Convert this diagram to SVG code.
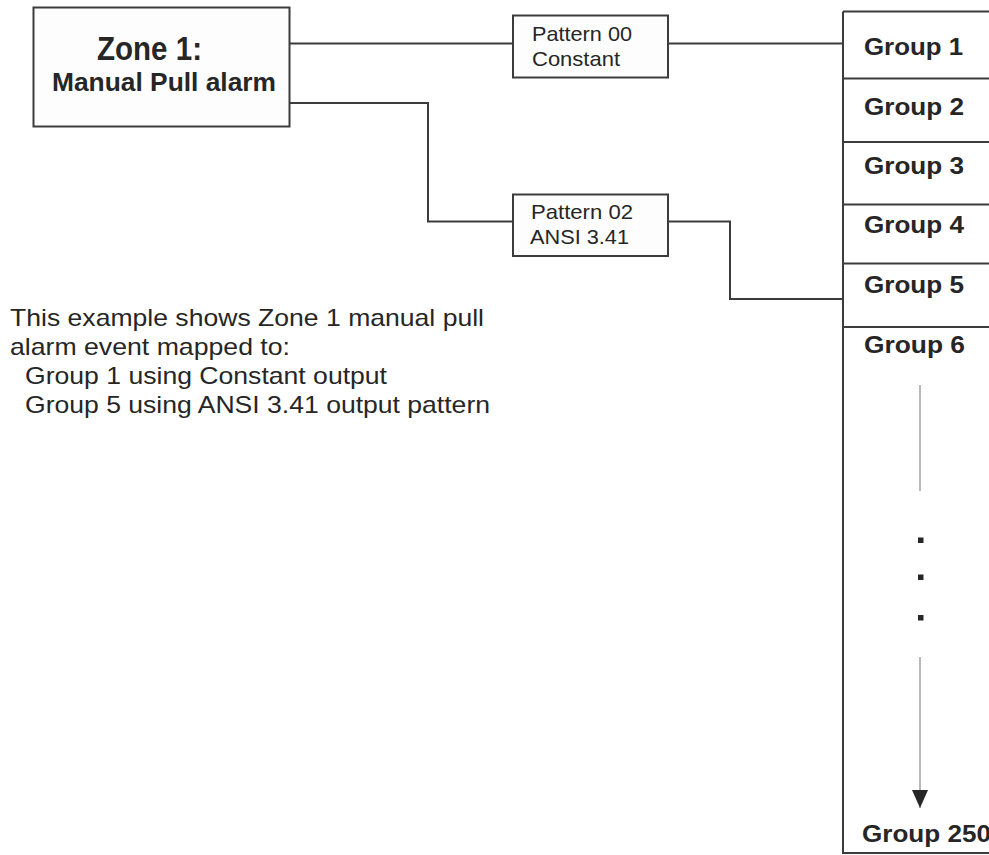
<svg xmlns="http://www.w3.org/2000/svg" width="989" height="855" viewBox="0 0 989 855">
  <style>
    .box { fill: #fdfdfd; stroke: #3c3c3c; stroke-width: 2; }
    .conn { fill: none; stroke: #3c3c3c; stroke-width: 2; }
    .div { fill: none; stroke: #3c3c3c; stroke-width: 2; }
    .thin { fill: none; stroke: #8a8a8a; stroke-width: 1.2; }
    .t { font-family: "Liberation Sans", Arial, sans-serif; fill: #262626; }
    .b { font-weight: bold; }
    .pat { font-size: 21px; }
    .grp { font-size: 24px; font-weight: bold; }
    .desc { font-size: 24px; }
  </style>
  <defs>
    <marker id="arrow" markerWidth="18" markerHeight="16" refX="18" refY="8" orient="auto" markerUnits="userSpaceOnUse" viewBox="0 0 18 16">
      <path d="M0,0 L18,8 L0,16 Z" fill="#262626"/>
    </marker>
  </defs>
  <rect width="989" height="855" fill="#ffffff"/>

  <g id="connectors">
    <path class="conn" d="M289,43.5 H513"/>
    <path class="conn" d="M289,103 H428 V221.5 H513"/>
    <path class="conn" d="M668,43.5 H843"/>
    <path class="conn" d="M668,221.5 H730 V299 H843"/>
  </g>

  <g id="zone1">
    <rect class="box" x="33.5" y="7.5" width="256" height="119"/>
    <text class="t b" x="97" y="60" font-size="34" textLength="105" lengthAdjust="spacingAndGlyphs">Zone 1:</text>
    <text class="t b" x="52" y="91" font-size="25" textLength="224" lengthAdjust="spacingAndGlyphs">Manual Pull alarm</text>
  </g>

  <g id="pattern00">
    <rect class="box" x="513" y="15.5" width="155" height="62"/>
    <text class="t pat" x="532" y="41" textLength="100" lengthAdjust="spacingAndGlyphs">Pattern 00</text>
    <text class="t pat" x="532" y="66" textLength="88" lengthAdjust="spacingAndGlyphs">Constant</text>
  </g>

  <g id="pattern02">
    <rect class="box" x="513" y="194.5" width="155" height="61.5"/>
    <text class="t pat" x="531" y="219" textLength="102" lengthAdjust="spacingAndGlyphs">Pattern 02</text>
    <text class="t pat" x="530" y="244" textLength="99" lengthAdjust="spacingAndGlyphs">ANSI 3.41</text>
  </g>

  <g id="groups">
    <path class="div" d="M843,11.5 H989 M843,11.5 V853 H989"/>
    <path class="div" d="M843,78.5 H989 M843,142 H989 M843,204.5 H989 M843,263.5 H989 M843,327 H989"/>
    <g id="group1"><text class="t grp" x="864" y="55" textLength="99" lengthAdjust="spacingAndGlyphs">Group 1</text></g>
    <g id="group2"><text class="t grp" x="864" y="115" textLength="100" lengthAdjust="spacingAndGlyphs">Group 2</text></g>
    <g id="group3"><text class="t grp" x="864" y="174" textLength="100" lengthAdjust="spacingAndGlyphs">Group 3</text></g>
    <g id="group4"><text class="t grp" x="864" y="233" textLength="100" lengthAdjust="spacingAndGlyphs">Group 4</text></g>
    <g id="group5"><text class="t grp" x="864" y="293" textLength="100" lengthAdjust="spacingAndGlyphs">Group 5</text></g>
    <g id="group6"><text class="t grp" x="864" y="353" textLength="101" lengthAdjust="spacingAndGlyphs">Group 6</text></g>
    <g id="group250"><text class="t grp" x="862" y="842" textLength="129" lengthAdjust="spacingAndGlyphs">Group 250</text></g>
    <path class="thin" d="M920,385 V491"/>
    <rect x="918" y="537.5" width="5.5" height="5.5" fill="#262626"/>
    <rect x="918" y="574.5" width="5.5" height="5.5" fill="#262626"/>
    <rect x="918" y="615" width="5.5" height="5.5" fill="#262626"/>
    <path class="thin" d="M920,657 V808" marker-end="url(#arrow)"/>
  </g>

  <g id="description">
    <text class="t desc" x="10" y="326" textLength="474" lengthAdjust="spacingAndGlyphs">This example shows Zone 1 manual pull</text>
    <text class="t desc" x="10" y="355" textLength="280" lengthAdjust="spacingAndGlyphs">alarm event mapped to:</text>
    <text class="t desc" x="25" y="384" textLength="362" lengthAdjust="spacingAndGlyphs">Group 1 using Constant output</text>
    <text class="t desc" x="25" y="413" textLength="465" lengthAdjust="spacingAndGlyphs">Group 5 using ANSI 3.41 output pattern</text>
  </g>
</svg>
